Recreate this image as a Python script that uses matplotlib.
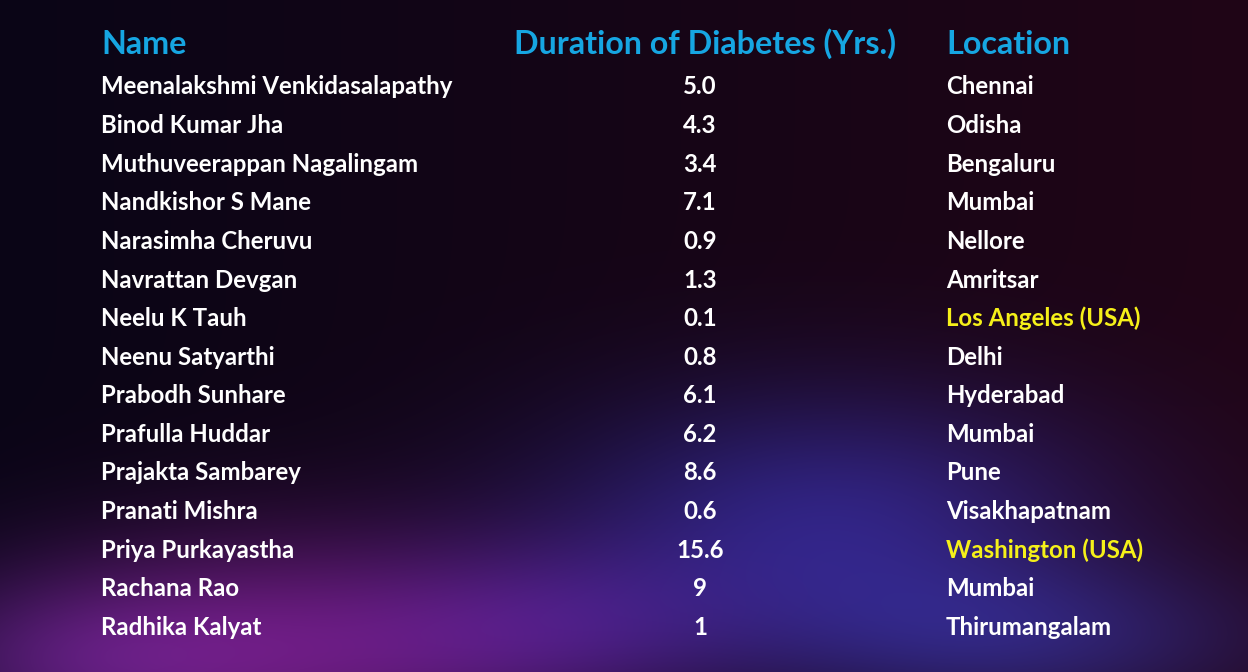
import matplotlib.pyplot as plt
import numpy as np

# Datos de la tabla
names = ["Meenalakshmi Venkidasalapathy", "Binod Kumar Jha", "Muthuveerappan Nagalingam",
         "Nandkishor S Mane", "Narasimha Cheruvu", "Navrattan Devgan", "Neelu K Tauh",
         "Neenu Satyarthi", "Prabodh Sunhare", "Prafulla Huddar", "Prajakta Sambarey",
         "Pranati Mishra", "Priya Purkayastha", "Rachana Rao", "Radhika Kalyat"]
durations = ["5.0", "4.3", "3.4", "7.1", "0.9", "1.3", "0.1", "0.8", "6.1", "6.2",
             "8.6", "0.6", "15.6", "9", "1"]
locations = ["Chennai", "Odisha", "Bengaluru", "Mumbai", "Nellore", "Amritsar",
             "Los Angeles (USA)", "Delhi", "Hyderabad", "Mumbai", "Pune",
             "Visakhapatnam", "Washington (USA)", "Mumbai", "Thirumangalam"]
headers = ["Name", "Duration of Diabetes (Yrs.)", "Location"]

W, H = 1248, 672
fig = plt.figure(figsize=(W / 100, H / 100), dpi=100)
ax = fig.add_axes([0, 0, 1, 1])
ax.set_xlim(0, W)
ax.set_ylim(H, 0)
ax.axis("off")

# Fondo tipo nebulosa
xx, yy = np.meshgrid(np.arange(W), np.arange(H))
t = (xx / W)[..., None]
bg = np.array([10, 5, 22]) / 255 * (1 - t) + np.array([32, 5, 22]) / 255 * t

def blob(cx, cy, sx, sy, color, amp):
    g = np.exp(-(((xx - cx) / sx) ** 2 + ((yy - cy) / sy) ** 2))
    return g[..., None] * np.array(color) / 255 * amp

bg = bg + blob(280, 650, 260, 120, [110, 25, 120], 0.75)
bg += blob(60, 660, 180, 90, [80, 30, 110], 0.5)
bg += blob(830, 520, 280, 130, [35, 45, 160], 0.65)
bg += blob(1020, 640, 260, 80, [30, 50, 150], 0.5)
bg += blob(560, 630, 200, 90, [70, 30, 140], 0.45)
bg = np.clip(bg, 0, 1)
ax.imshow(bg, extent=[0, W, H, 0], aspect="auto", zorder=0)

font = "Lato"
blue = "#16A6E2"
yellow = "#F5F019"

header_y = 44
row_y0 = 87
row_step = 38.6

for x, ha, h in zip([101, 705, 946], ["left", "center", "left"], headers):
    ax.text(x, header_y, h, color=blue, fontsize=23.2, family=font, weight="bold",
            ha=ha, va="center")

for i in range(len(names)):
    y = row_y0 + i * row_step
    ax.text(101, y, names[i], color="white", fontsize=17.3, family=font,
            weight="bold", ha="left", va="center")
    ax.text(700, y, durations[i], color="white", fontsize=17.3, family=font,
            weight="bold", ha="center", va="center")
    c = yellow if "USA" in locations[i] else "white"
    ax.text(946, y, locations[i], color=c, fontsize=17.3, family=font,
            weight="bold", ha="left", va="center")

plt.savefig("out.png", dpi=100)
